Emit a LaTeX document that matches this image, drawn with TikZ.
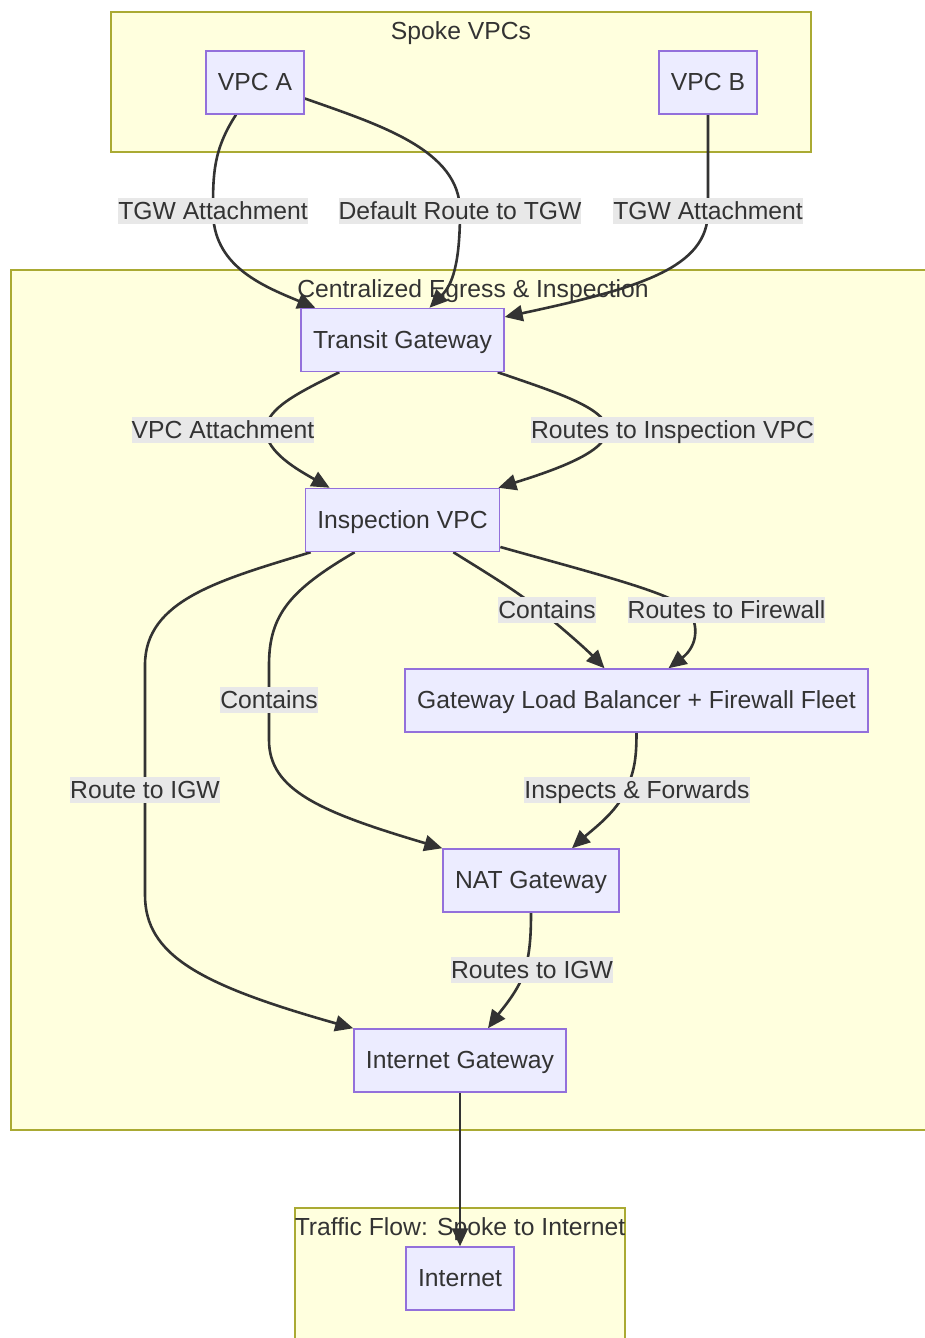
\documentclass[tikz,border=0pt]{standalone}
\usepackage{fontspec}
\setmainfont{Liberation Sans}
\usetikzlibrary{arrows.meta,calc}
\definecolor{clfill}{HTML}{FFFFDE}
\definecolor{clline}{HTML}{AAAA33}
\definecolor{ndfill}{HTML}{ECECFF}
\definecolor{ndline}{HTML}{9370DB}
\definecolor{edgecol}{HTML}{333333}
\definecolor{lblfill}{HTML}{E8E8E8}
\definecolor{txtcol}{HTML}{333333}
\pgfdeclarelayer{back}
\pgfdeclarelayer{mid}
\pgfsetlayers{back,mid,main}
\begin{document}
\begin{tikzpicture}[x=1pt,y=-1pt,
  every node/.style={font=\fontsize{24.7pt}{29pt}\selectfont, text=txtcol},
  box/.style={draw=ndline, fill=ndfill, line width=1.5pt, inner xsep=12pt, inner ysep=0pt, minimum height=63pt, text height=21pt, text depth=5pt},
  cluster/.style={draw=clline, fill=clfill, line width=1.5pt},
  ctitle/.style={inner sep=0pt, text height=21pt, text depth=5pt},
  elabel/.style={fill=lblfill, inner sep=0pt, text height=21pt, text depth=5pt},
  conn/.style={draw=edgecol, line width=2.6pt, -{Triangle[length=18pt,width=16pt]}},
]
\useasboundingbox (0,0) rectangle (924,1338);
\clip (0,0) rectangle (924,1338);

\begin{pgfonlayer}{back}
\path[cluster] (111,12) rectangle (811,152);
\path[cluster] (11,270) rectangle (935,1130);
\path[cluster] (295,1208) rectangle (625,1350);
\node[ctitle] (t1) at (461,32) {Spoke VPCs};
\node[ctitle] (t2) at (473,289) {Centralized Egress \& Inspection};
\node[ctitle] (t3) at (460,1227) {Traffic Flow: Spoke to Internet};
\end{pgfonlayer}

% nodes
\node[box] (vpca) at (255,82.5) {VPC A};
\node[box] (vpcb) at (708,82.5) {VPC B};
\node[box] (tgw) at (402.5,340) {Transit Gateway};
\node[box] (insp) at (402.5,520) {Inspection VPC};
\node[box] (gwlb) at (636.5,700.5) {Gateway Load Balancer + Firewall Fleet};
\node[box] (nat) at (531,880.5) {NAT Gateway};
\node[box] (igw) at (460,1060.5) {Internet Gateway};
\node[box] (internet) at (460,1278.5) {Internet};

% edge labels
\node[elabel] (l1) at (213,211) {TGW Attachment};
\node[elabel] (l2) at (460,211) {Default Route to TGW};
\node[elabel] (l3) at (708,211) {TGW Attachment};
\node[elabel] (l4) at (223,430) {VPC Attachment};
\node[elabel] (l5) at (672.5,430) {Routes to Inspection VPC};
\node[elabel] (l6) at (547,610) {Contains};
\node[elabel] (l7) at (726.5,610) {Routes to Firewall};
\node[elabel] (l8) at (269,700) {Contains};
\node[elabel] (l9) at (145,790) {Route to IGW};
\node[elabel] (l10) at (637,790) {Inspects \& Forwards};
\node[elabel] (l11) at (532,970) {Routes to IGW};

% waypoints
\coordinate (w4) at (266,430);
\coordinate (w5) at (607,430);
\coordinate (w6) at (540,610);
\coordinate (w7) at (690,612);
\coordinate (w8a) at (269,665);
\coordinate (w8b) at (269,740);
\coordinate (w9a) at (145,665);
\coordinate (w9b) at (145,895);
\coordinate (w10) at (626,790);
\coordinate (w11) at (525,970);

\begin{pgfonlayer}{mid}
\draw[conn] ($(vpca.south)+(-19,0)$) .. controls (213,150) and (213,175) .. (l1.center) .. controls (213,265) and (260,285) .. ($(tgw.north west)+(15,0)$);
\draw[conn] ($(vpca.east)+(0,16)$) .. controls (380,125) and (460,150) .. (l2.center) .. controls (460,265) and (452,285) .. ($(tgw.north)+(27,0)$);
\draw[conn] (vpcb.south) -- (l3.center) .. controls (708,268) and (640,288) .. ($(tgw.east)+(0,-23)$);
\draw[conn] ($(tgw.south west)+(39,0)$) .. controls (300,392) and (266,408) .. (w4) .. controls (266,452) and (298,470) .. ($(insp.north west)+(25,0)$);
\draw[conn] ($(tgw.south east)+(-7,0)$) .. controls (555,392) and (607,408) .. (w5) .. controls (607,452) and (555,470) .. ($(insp.north east)+(-2,0)$);
\draw[conn] ($(insp.south east)+(-47,0)$) .. controls (490,575) and (518,592) .. (w6) .. controls (562,628) and (585,648) .. ($(gwlb.north)+(-32,0)$);
\draw[conn] ($(insp.east)+(0,27)$) .. controls (600,575) and (680,595) .. (w7) .. controls (700,630) and (695,648) .. ($(gwlb.north)+(32,0)$);
\draw[conn] ($(insp.south west)+(50,0)$) .. controls (290,590) and (269,615) .. (w8a) -- (w8b) .. controls (269,790) and (320,812) .. (nat.north west);
\draw[conn] ($(insp.south west)+(6,0)$) .. controls (220,580) and (145,600) .. (w9a) -- (w9b) .. controls (145,955) and (200,985) .. (igw.north west);
\draw[conn] (gwlb.south) .. controls (636.5,760) and (634,772) .. (w10) .. controls (617,812) and (592,830) .. ($(nat.north)+(41,0)$);
\draw[conn] (nat.south) .. controls (531,935) and (530,952) .. (w11) .. controls (519,990) and (503,1008) .. ($(igw.north)+(28,0)$);
\draw[conn] (igw) -- (internet);
\end{pgfonlayer}
\end{tikzpicture}
\end{document}
